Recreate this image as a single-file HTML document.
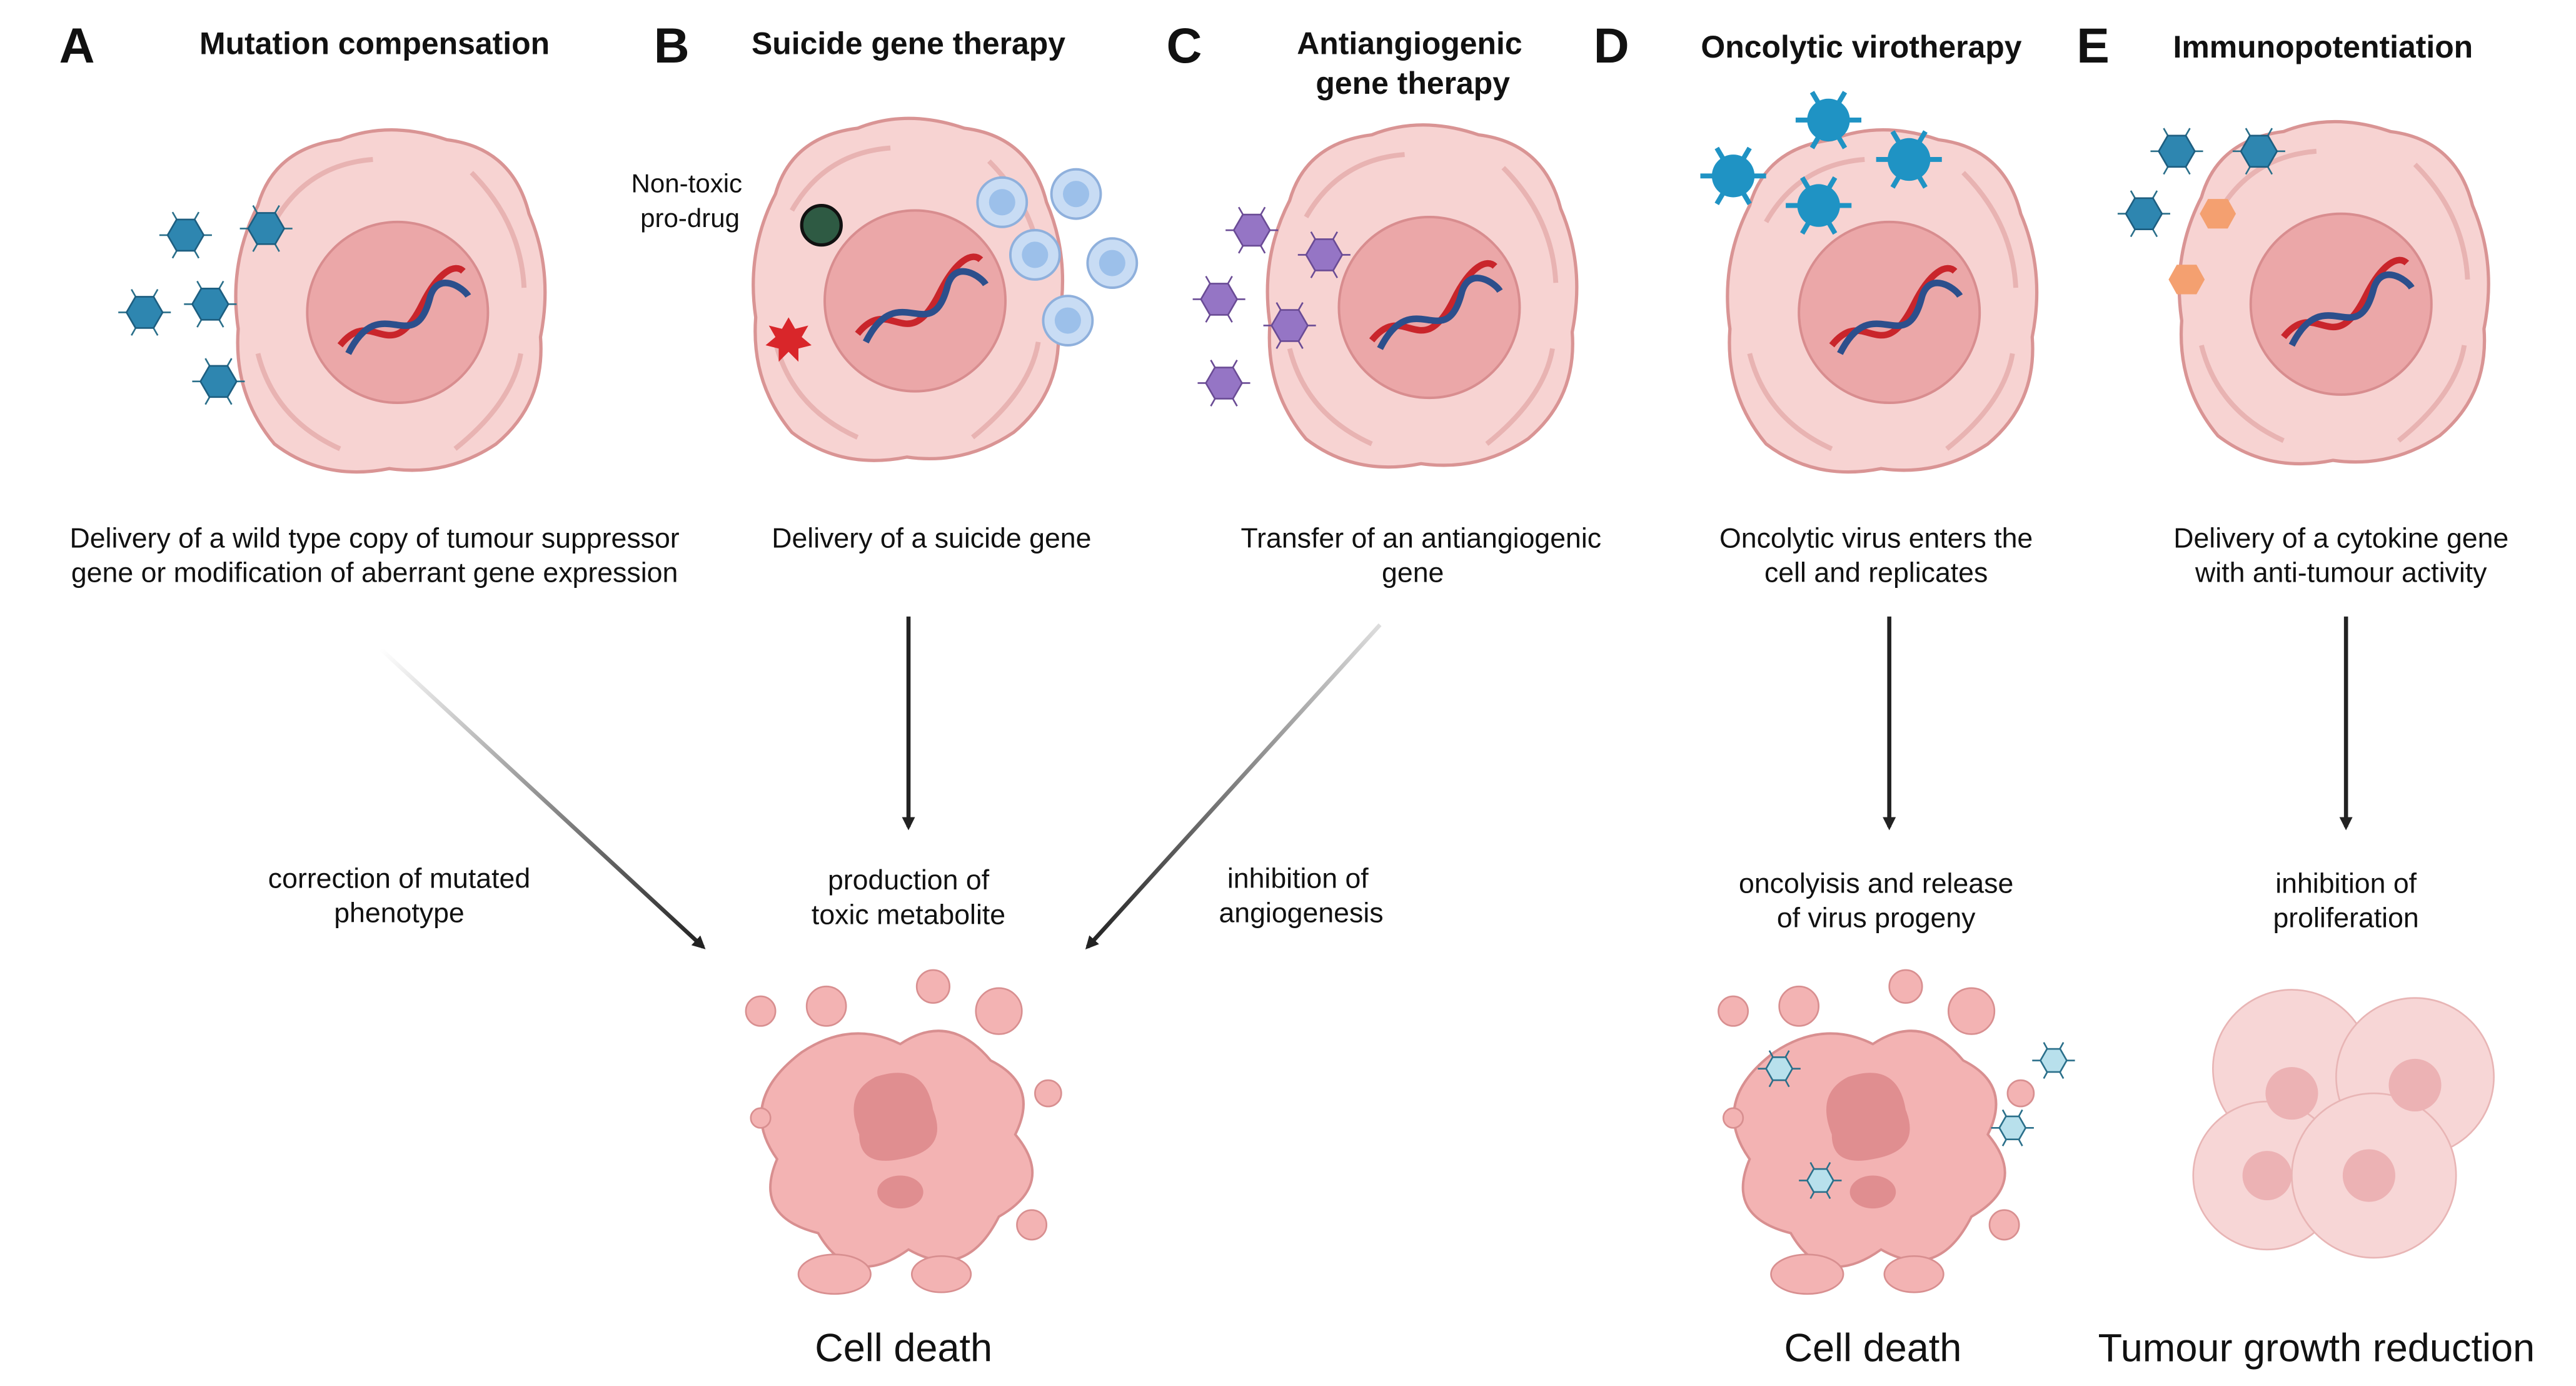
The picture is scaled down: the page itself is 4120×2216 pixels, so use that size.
<!DOCTYPE html>
<html><head><meta charset="utf-8"><style>
html,body{margin:0;padding:0;background:#fff;}
svg{display:block;}
text{font-family:"Liberation Sans",sans-serif;fill:#111;}
.t{font-weight:bold;font-size:19px;text-anchor:middle}
.L{font-weight:bold;font-size:30px}
.d{font-size:17px;text-anchor:middle}
.big{font-size:24px;text-anchor:middle}
</style></head><body>
<svg width="4120" height="2216" viewBox="0 0 1568 843" preserveAspectRatio="none" xmlns="http://www.w3.org/2000/svg">
<defs>
<g id="cell">
<path d="M-80,-60 Q-70,-95 -30,-100 Q0,-112 35,-100 Q75,-95 85,-55 Q100,-20 92,20 Q95,60 65,85 Q35,105 0,100 Q-40,108 -70,85 Q-95,55 -92,15 Q-98,-25 -80,-60Z" fill="#f7d3d2" stroke="#d99494" stroke-width="2"/>
<path d="M-70,-50 Q-50,-85 -10,-88 M50,-80 Q80,-50 82,-10 M-80,30 Q-70,70 -30,88 M40,88 Q75,60 80,30" fill="none" stroke="#e8b3b2" stroke-width="3"/>
<ellipse cx="5" cy="5" rx="55" ry="55" fill="#eba7a8" stroke="#d88d8f" stroke-width="1.5"/>
<path d="M-30,25 C-10,0 0,40 20,0 C30,-20 40,-25 45,-20" fill="none" stroke="#c9252b" stroke-width="4"/>
<path d="M-25,30 C-5,-10 15,35 25,-5 C30,-20 45,-10 48,-5" fill="none" stroke="#2c4f8c" stroke-width="4"/>
</g>
<g id="v">
<g stroke="#2a6f8a" stroke-width="1"><line x1="-16" y1="0" x2="16" y2="0"/><line x1="-8" y1="-14" x2="8" y2="14"/><line x1="8" y1="-14" x2="-8" y2="14"/></g>
<polygon points="-11,0 -5.5,-9.5 5.5,-9.5 11,0 5.5,9.5 -5.5,9.5" fill="#2e86b0" stroke="#1d5e80"/>
</g>
<g id="vp">
<g stroke="#6a4b95" stroke-width="1"><line x1="-16" y1="0" x2="16" y2="0"/><line x1="-8" y1="-14" x2="8" y2="14"/><line x1="8" y1="-14" x2="-8" y2="14"/></g>
<polygon points="-11,0 -5.5,-9.5 5.5,-9.5 11,0 5.5,9.5 -5.5,9.5" fill="#9575c5" stroke="#6a4b95"/>
</g>
<g id="vs">
<g stroke="#2a6f8a" stroke-width="1"><line x1="-13" y1="0" x2="13" y2="0"/><line x1="-6" y1="-11" x2="6" y2="11"/><line x1="6" y1="-11" x2="-6" y2="11"/></g>
<polygon points="-8,0 -4,-7 4,-7 8,0 4,7 -4,7" fill="#b8e0ec" stroke="#2a6f8a"/>
</g>
<g id="ov">
<g stroke="#1f93c4" stroke-width="3"><line x1="-20" y1="0" x2="20" y2="0"/><line x1="-10" y1="-17" x2="10" y2="17"/><line x1="10" y1="-17" x2="-10" y2="17"/></g>
<circle r="13" fill="#1f93c4"/>
</g>
<g id="sv"><circle r="15" fill="#c8dcf4" stroke="#8fb0dc" stroke-width="1.5"/><circle r="8" fill="#9cc0ea"/></g>
<g id="dead">
<path d="M-60,-50 Q-30,-70 0,-55 Q30,-75 55,-45 Q85,-30 70,0 Q95,30 60,50 Q40,90 5,70 Q-30,95 -50,60 Q-90,50 -75,15 Q-100,-20 -60,-50Z" fill="#f3b3b3" stroke="#d88f90" stroke-width="1.5"/>
<path d="M-15,-35 Q15,-45 20,-15 Q30,10 0,15 Q-25,20 -25,0 Q-35,-25 -15,-35Z" fill="#e08e90"/>
<ellipse cx="0" cy="35" rx="14" ry="10" fill="#e08e90"/>
<circle cx="-85" cy="-75" r="9" fill="#f3b3b3" stroke="#d88f90"/><circle cx="-45" cy="-78" r="12" fill="#f3b3b3" stroke="#d88f90"/>
<circle cx="20" cy="-90" r="10" fill="#f3b3b3" stroke="#d88f90"/><circle cx="60" cy="-75" r="14" fill="#f3b3b3" stroke="#d88f90"/>
<circle cx="90" cy="-25" r="8" fill="#f3b3b3" stroke="#d88f90"/><circle cx="80" cy="55" r="9" fill="#f3b3b3" stroke="#d88f90"/>
<ellipse cx="-40" cy="85" rx="22" ry="12" fill="#f3b3b3" stroke="#d88f90"/><ellipse cx="25" cy="85" rx="18" ry="11" fill="#f3b3b3" stroke="#d88f90"/>
<circle cx="-85" cy="-10" r="6" fill="#f3b3b3" stroke="#d88f90"/>
</g>
<marker id="ar" markerWidth="8" markerHeight="8" refX="6" refY="4" orient="auto" markerUnits="userSpaceOnUse" viewBox="0 0 8 8"><path d="M0,0 L8,4 L0,8Z" fill="#222"/></marker>
<linearGradient id="ga" x1="0" y1="0" x2="1" y2="1"><stop offset="0" stop-color="#fff"/><stop offset="1" stop-color="#222"/></linearGradient>
<linearGradient id="gc" x1="1" y1="0" x2="0" y2="1"><stop offset="0" stop-color="#ddd"/><stop offset="1" stop-color="#222"/></linearGradient>
</defs>

<text class="L" x="36" y="38">A</text><text class="L" x="398" y="38">B</text><text class="L" x="710" y="38">C</text><text class="L" x="970" y="38">D</text><text class="L" x="1264" y="38">E</text>
<text class="t" x="228" y="33">Mutation compensation</text>
<text class="t" x="553" y="33">Suicide gene therapy</text>
<text class="t" x="858" y="33">Antiangiogenic</text><text class="t" x="860" y="57">gene therapy</text>
<text class="t" x="1133" y="35">Oncolytic virotherapy</text>
<text class="t" x="1414" y="35">Immunopotentiation</text>

<use href="#cell" x="237" y="185"/>
<use href="#v" x="113" y="143"/><use href="#v" x="162" y="139"/><use href="#v" x="88" y="190"/><use href="#v" x="128" y="185"/><use href="#v" x="133" y="232"/>

<use href="#cell" x="552" y="178"/>
<use href="#sv" x="610" y="123"/><use href="#sv" x="655" y="118"/><use href="#sv" x="630" y="155"/><use href="#sv" x="677" y="160"/><use href="#sv" x="650" y="195"/>
<circle cx="500" cy="137" r="12" fill="#2e5a43" stroke="#111" stroke-width="2"/>
<polygon points="480,193 484,200 492,198 488,205 494,210 486,212 486,220 480,214 474,220 474,212 466,210 472,205 468,198 476,200" fill="#d9262a"/>
<text x="418" y="117" style="font-size:16px;text-anchor:middle">Non-toxic</text><text x="420" y="138" style="font-size:16px;text-anchor:middle">pro-drug</text>

<use href="#cell" x="865" y="182"/>
<use href="#vp" x="762" y="140"/><use href="#vp" x="806" y="155"/><use href="#vp" x="742" y="182"/><use href="#vp" x="785" y="198"/><use href="#vp" x="745" y="233"/>

<use href="#cell" x="1145" y="185"/>
<use href="#ov" x="1055" y="107"/><use href="#ov" x="1113" y="73"/><use href="#ov" x="1162" y="97"/><use href="#ov" x="1107" y="125"/>

<use href="#cell" x="1420" y="180"/>
<use href="#v" x="1325" y="92"/><use href="#v" x="1375" y="92"/><use href="#v" x="1305" y="130"/>
<polygon points="1339,130 1344,121 1356,121 1361,130 1356,139 1344,139" fill="#f4a070"/>
<polygon points="1320,170 1325,161 1337,161 1342,170 1337,179 1325,179" fill="#f4a070"/>

<text class="d" x="228" y="333">Delivery of a wild type copy  of tumour suppressor</text>
<text class="d" x="228" y="354">gene or modification of aberrant gene expression</text>
<text class="d" x="567" y="333">Delivery of a suicide gene</text>
<text class="d" x="865" y="333">Transfer of an antiangiogenic</text><text class="d" x="860" y="354">gene</text>
<text class="d" x="1142" y="333">Oncolytic virus enters the</text><text class="d" x="1142" y="354">cell and replicates</text>
<text class="d" x="1425" y="333">Delivery of a cytokine  gene</text><text class="d" x="1425" y="354">with anti-tumour activity</text>

<line x1="232" y1="395" x2="428" y2="576" stroke="url(#ga)" stroke-width="2.5" marker-end="url(#ar)"/>
<line x1="553" y1="375" x2="553" y2="503" stroke="#222" stroke-width="2.5" marker-end="url(#ar)"/>
<line x1="840" y1="380" x2="662" y2="576" stroke="url(#gc)" stroke-width="2.5" marker-end="url(#ar)"/>
<line x1="1150" y1="375" x2="1150" y2="503" stroke="#222" stroke-width="2.5" marker-end="url(#ar)"/>
<line x1="1428" y1="375" x2="1428" y2="503" stroke="#222" stroke-width="2.5" marker-end="url(#ar)"/>

<text class="d" x="243" y="540">correction of mutated</text><text class="d" x="243" y="561">phenotype</text>
<text class="d" x="553" y="541">production of</text><text class="d" x="553" y="562">toxic metabolite</text>
<text class="d" x="790" y="540">inhibition of</text><text class="d" x="792" y="561">angiogenesis</text>
<text class="d" x="1142" y="543">oncolyisis and release</text><text class="d" x="1142" y="564">of virus progeny</text>
<text class="d" x="1428" y="543">inhibition of</text><text class="d" x="1428" y="564">proliferation</text>

<use href="#dead" x="548" y="690"/>
<use href="#dead" x="1140" y="690"/>
<use href="#vs" x="1083" y="650"/><use href="#vs" x="1250" y="645"/><use href="#vs" x="1225" y="686"/><use href="#vs" x="1108" y="718"/>

<g opacity="0.85">
<circle cx="1395" cy="650" r="48" fill="#f6cfcf" stroke="#e4a9a9"/><circle cx="1470" cy="655" r="48" fill="#f6cfcf" stroke="#e4a9a9"/>
<circle cx="1380" cy="715" r="45" fill="#f6cfcf" stroke="#e4a9a9"/><circle cx="1445" cy="715" r="50" fill="#f6cfcf" stroke="#e4a9a9"/>
<circle cx="1395" cy="665" r="16" fill="#e9a5a7"/><circle cx="1470" cy="660" r="16" fill="#e9a5a7"/>
<circle cx="1380" cy="715" r="15" fill="#e9a5a7"/><circle cx="1442" cy="715" r="16" fill="#e9a5a7"/>
</g>

<text class="big" x="550" y="828">Cell death</text>
<text class="big" x="1140" y="828">Cell death</text>
<text class="big" x="1410" y="828">Tumour growth reduction</text>
</svg>
</body></html>
